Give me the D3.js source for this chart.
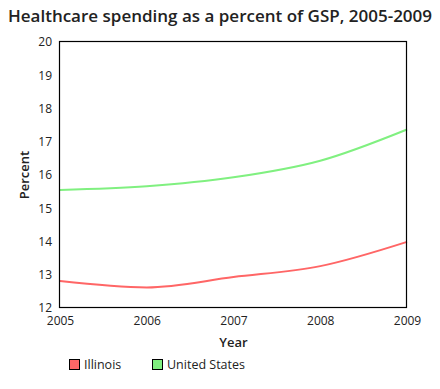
<!DOCTYPE html>
<html>
<head>
<meta charset="utf-8">
<script src="https://cdn.jsdelivr.net/npm/d3@7"></script>
<style>
  body { margin: 0; background: #fff; }
  text { font-family: "Open Sans", sans-serif; fill: #222; }
</style>
</head>
<body>
<div id="chart"></div>
<script>
let width = 440,
    height = 389,
    margin = ({ top: 42, right: 33, bottom: 81, left: 60 });

const years = [2005, 2006, 2007, 2008, 2009];
const illinois = [12.81, 12.62, 12.93, 13.26, 13.99];
const unitedStates = [15.55, 15.66, 15.93, 16.43, 17.37];
const seriesNames = ["Illinois", "United States"];
const colors = ["#ff6666", "#80f080"];

const svg = d3.select("#chart")
  .append("svg")
  .attr("width", width)
  .attr("height", height);

let x = d3.scaleLinear()
  .domain([2005, 2009])
  .range([margin.left, width - margin.right]);

let y = d3.scaleLinear()
  .domain([12, 20])
  .range([height - margin.bottom, margin.top]);

svg.append("text")
  .attr("x", 220)
  .attr("y", 22)
  .attr("text-anchor", "middle")
  .attr("font-size", 17)
  .attr("font-weight", 600)
  .text("Healthcare spending as a percent of GSP, 2005-2009");

// y axis labels
let yAxis = svg.append("g")
  .attr("transform", `translate(${margin.left},0)`)
  .call(d3.axisLeft(y).ticks(8).tickSize(0).tickPadding(8));
yAxis.select(".domain").remove();
yAxis.selectAll("text").attr("font-size", 12).attr("fill", "#222");

let xAxis = svg.append("g")
  .attr("transform", `translate(0,${height - margin.bottom})`)
  .call(d3.axisBottom(x).ticks(4).tickFormat(d3.format("d")).tickSize(0).tickPadding(8));
xAxis.select(".domain").remove();
xAxis.selectAll("text").attr("font-size", 12).attr("fill", "#222");

let line = d3.line()
  .x((d, i) => x(years[i]))
  .y(d => y(d))
  .curve(d3.curveMonotoneX);

[illinois, unitedStates].forEach((vals, i) => {
  svg.append("path")
    .datum(vals)
    .attr("fill", "none")
    .attr("stroke", colors[i])
    .attr("stroke-width", 2)
    .attr("d", line);
});

// plot frame
svg.append("rect")
  .attr("x", margin.left - 0.5)
  .attr("y", margin.top - 0.5)
  .attr("width", width - margin.left - margin.right)
  .attr("height", height - margin.top - margin.bottom)
  .attr("fill", "none")
  .attr("stroke", "#000")
  .attr("stroke-width", 1.2);

svg.append("text")
  .attr("x", (margin.left + width - margin.right) / 2)
  .attr("y", 347)
  .attr("text-anchor", "middle")
  .attr("font-size", 13)
  .attr("font-weight", 600)
  .text("Year");

svg.append("text")
  .attr("transform", `translate(29,${(margin.top + height - margin.bottom) / 2}) rotate(-90)`)
  .attr("text-anchor", "middle")
  .attr("font-size", 13)
  .attr("font-weight", 600)
  .text("Percent");

let legendX = [69, 152];
seriesNames.forEach((name, i) => {
  let g = svg.append("g").attr("transform", `translate(${legendX[i]},359)`);
  g.append("rect")
    .attr("x", 0.5).attr("y", 0.5)
    .attr("width", 10).attr("height", 10)
    .attr("fill", colors[i])
    .attr("stroke", "#000");
  g.append("text")
    .attr("x", 15)
    .attr("y", 10)
    .attr("font-size", 12.5)
    .text(name);
});
</script>
</body>
</html>
